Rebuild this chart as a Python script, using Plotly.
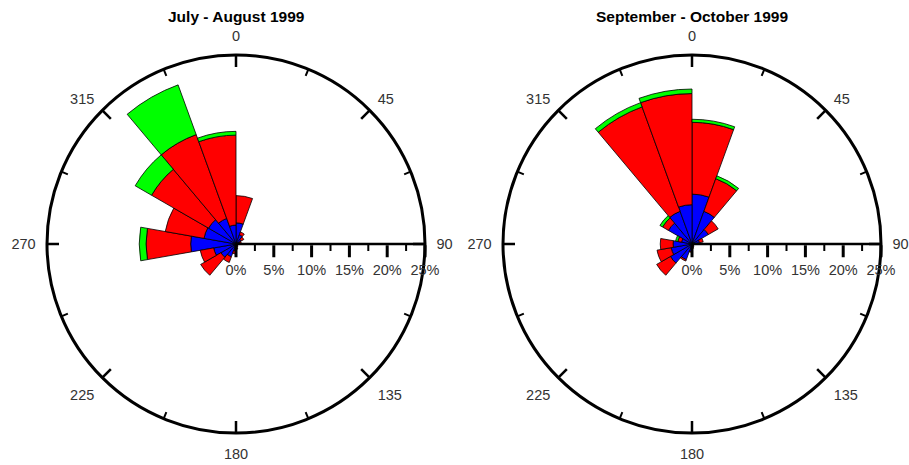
import math
import plotly.graph_objects as go

# Wind direction bins (20 degree sectors, centre of each bin)
directions = [10, 30, 50, 70, 90, 110, 130, 150, 170, 190, 210, 230, 250, 270, 290, 310, 330, 350]

# Frequency (%) contributed by each speed class, July - August 1999
jul_low = [2.8, 1.3, 0.8, 0.5, 0.3, 0.2, 0.2, 0.3, 0.5, 0.9, 1.8, 2.3, 3.0, 6.0, 4.3, 4.2, 3.6, 2.5]
jul_mid = [3.6, 0.4, 0.4, 0.2, 0.1, 0.1, 0.1, 0.1, 0.2, 0.4, 0.8, 3.1, 1.8, 5.9, 5.2, 8.7, 11.8, 11.9]
jul_high = [0.0, 0.0, 0.0, 0.0, 0.0, 0.0, 0.0, 0.0, 0.0, 0.0, 0.0, 0.0, 0.0, 0.9, 0.0, 2.5, 7.0, 0.5]

# Frequency (%) contributed by each speed class, September - October 1999
sep_low = [6.6, 4.6, 2.5, 1.0, 0.3, 0.2, 0.2, 0.3, 0.5, 1.0, 2.2, 3.3, 2.8, 2.5, 1.4, 3.6, 4.6, 5.2]
sep_mid = [9.5, 4.6, 1.5, 0.5, 0.1, 0.1, 0.1, 0.1, 0.1, 0.1, 0.2, 2.1, 1.9, 1.7, 0.5, 0.9, 14.7, 14.7]
sep_high = [0.4, 0.4, 0.0, 0.0, 0.0, 0.0, 0.0, 0.0, 0.0, 0.0, 0.0, 0.0, 0.0, 0.0, 0.3, 0.4, 0.6, 0.6]

titles = ["July - August 1999", "September - October 1999"]
class_colors = ["#0000FF", "#FF0000", "#00FF00"]
radial_ticks = [0, 5, 10, 15, 20, 25]
radial_minor = [2.5, 7.5, 12.5, 17.5, 22.5]
angle_ticks = [0, 45, 90, 135, 180, 225, 270, 315]
angle_minor = [22.5, 67.5, 112.5, 157.5, 202.5, 247.5, 292.5, 337.5]

R_MAX = 25.0
R_PX = 189.0          # radius of the polar area in pixels
W, H = 909, 465
centres = [(236, 244), (692, 244)]


def circle_ticks(angles, length_px):
    """Line segments pointing inwards from the outer circle."""
    rr, tt = [], []
    inner = R_MAX * (1 - length_px / R_PX)
    for a in angles:
        rr += [inner, R_MAX, None]
        tt += [a, a, None]
    return rr, tt


def radial_minor_ticks(values, length_px):
    """Short ticks hanging below the east radial axis."""
    rr, tt = [], []
    d = length_px * R_MAX / R_PX
    for v in values:
        rr += [v, math.hypot(v, d), None]
        tt += [90, 90 + math.degrees(math.atan2(d, v)), None]
    return rr, tt


fig = go.Figure()

datasets = [(jul_low, jul_mid, jul_high), (sep_low, sep_mid, sep_high)]
for i, classes in enumerate(datasets):
    sub = "polar" if i == 0 else "polar2"
    for vals, col in zip(classes, class_colors):
        fig.add_trace(go.Barpolar(
            r=vals, theta=directions, width=[20] * len(directions),
            marker=dict(color=col, line=dict(color="black", width=0.8)),
            subplot=sub, showlegend=False, hoverinfo="skip",
        ))

    for (rr, tt), w in [(circle_ticks(angle_ticks, 12), 2.5),
                        (circle_ticks(angle_minor, 7), 2),
                        (radial_minor_ticks(radial_minor, 7), 2)]:
        fig.add_trace(go.Scatterpolar(r=rr, theta=tt, mode="lines",
                                      line=dict(color="black", width=w),
                                      subplot=sub, showlegend=False, hoverinfo="skip"))

tick_font = dict(family="Liberation Sans, Arial, sans-serif", size=14.5, color="#333333")


def polar_layout(cx, cy):
    return dict(
        domain=dict(x=[(cx - R_PX) / W, (cx + R_PX) / W],
                    y=[(H - cy - R_PX) / H, (H - cy + R_PX) / H]),
        bgcolor="white",
        barmode="stack",
        bargap=0,
        angularaxis=dict(
            rotation=90, direction="clockwise",
            tickmode="array", tickvals=angle_ticks,
            ticktext=[str(a) for a in angle_ticks],
            # invisible outer ticks only push the labels away from the circle
            ticks="outside", ticklen=7, tickwidth=1, tickcolor="rgba(0,0,0,0)",
            showline=True, linecolor="black", linewidth=3,
            showgrid=False, tickfont=tick_font,
        ),
        radialaxis=dict(
            range=[0, R_MAX], angle=0, side="clockwise",
            tickmode="array", tickvals=radial_ticks,
            ticktext=[f"{v}%" for v in radial_ticks],
            ticks="outside", ticklen=12, tickwidth=2.5, tickcolor="black",
            showline=True, linecolor="black", linewidth=2.5,
            showgrid=False, tickfont=tick_font, tickangle=0,
        ),
    )


annotations = []
for (cx, cy), title in zip(centres, titles):
    annotations.append(dict(
        text=f"<b>{title}</b>", x=cx / W, y=1 - 16 / H,
        xref="paper", yref="paper", xanchor="center", yanchor="middle",
        showarrow=False,
        font=dict(family="Liberation Sans, Arial, sans-serif", size=15.5, color="black"),
    ))

fig.update_layout(
    width=W, height=H,
    margin=dict(l=0, r=0, t=0, b=0),
    paper_bgcolor="white",
    polar=polar_layout(*centres[0]),
    polar2=polar_layout(*centres[1]),
    annotations=annotations,
    showlegend=False,
)

fig.write_html("out.html")
